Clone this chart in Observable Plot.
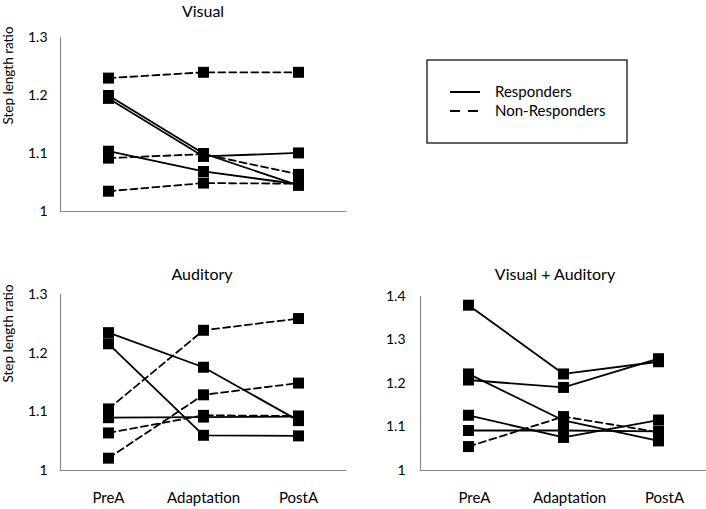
<!DOCTYPE html>
<html>
<head>
<meta charset="utf-8">
<script src="https://cdn.jsdelivr.net/npm/d3@7"></script>
<script src="https://cdn.jsdelivr.net/npm/@observablehq/plot@0.6"></script>
<style>
  html, body { margin: 0; padding: 0; background: #fff; }
  #wrap { position: relative; width: 706px; height: 509px; overflow: hidden; font-family: Lato, "Open Sans", sans-serif; color: #000; }
  .pan { position: absolute; }
  .title { position: absolute; font-size: 16px; transform: translate(-50%, -50%); white-space: nowrap; }
</style>
</head>
<body>
<div id="wrap"></div>
<script>
const phases = ["PreA", "Adaptation", "PostA"];
const groups = ["Responders", "Non-Responders"];
const panelTitles = ["Visual", "Auditory", "Visual + Auditory"];
const yLabel = "Step length ratio";

// Visual
const visualResp = [[1.200, 1.100, 1.045], [1.195, 1.095, 1.101], [1.104, 1.069, 1.047]];
const visualNon  = [[1.230, 1.240, 1.240], [1.092, 1.099, 1.064], [1.035, 1.049, 1.048]];
// Auditory
const audResp = [[1.235, 1.176, 1.085], [1.216, 1.060, 1.059], [1.090, 1.091, 1.092]];
const audNon  = [[1.105, 1.239, 1.259], [1.064, 1.094, 1.093], [1.021, 1.129, 1.149]];
// Visual + Auditory
const vaResp = [[1.380, 1.222, 1.250], [1.222, 1.115, 1.068], [1.208, 1.191, 1.257], [1.127, 1.076, 1.116], [1.092, 1.092, 1.090]];
const vaNon  = [[1.055, 1.124, 1.088]];

const ticksLow = [1, 1.1, 1.2, 1.3];
const ticksHigh = [1, 1.1, 1.2, 1.3, 1.4];

function table(resp, non) {
  const rows = [];
  resp.forEach((s, i) => s.forEach((v, j) => rows.push({group: groups[0], id: "R" + i, phase: phases[j], value: v})));
  non.forEach((s, i) => s.forEach((v, j) => rows.push({group: groups[1], id: "N" + i, phase: phases[j], value: v})));
  return rows;
}

const axisGray = "#8a8a8a";
const fmt = d => (d === 1 ? "1" : d.toFixed(1));

function panel(o) {
  const data = o.data;
  const marks = [
    Plot.frame({anchor: "left", stroke: axisGray, strokeWidth: 1.2}),
    Plot.frame({anchor: "bottom", stroke: axisGray, strokeWidth: 1.2}),
    Plot.axisY({ticks: o.ticks, tickSize: 0, tickPadding: o.tickPad, tickFormat: fmt, label: null, fontSize: 14})
  ];
  if (o.showX) marks.push(Plot.axisX({tickSize: 0, tickPadding: 22, label: null, fontSize: 15, dx: o.xdx || 0}));
  if (o.ylabel) marks.push(Plot.text([o.ylabel], {text: d => d, frameAnchor: "left", rotate: -90, dx: -52, fontSize: 13.5}));
  marks.push(
    Plot.line(data.filter(d => d.group === groups[0]), {x: "phase", y: "value", z: "id", stroke: "#000", strokeWidth: 1.8}),
    Plot.line(data.filter(d => d.group === groups[1]), {x: "phase", y: "value", z: "id", stroke: "#000", strokeWidth: 1.8, strokeDasharray: "7,4"}),
    Plot.dot(data, {x: "phase", y: "value", symbol: "square", r: 6.2, fill: "#000", stroke: "none"})
  );
  const svg = Plot.plot({
    width: o.width, height: o.height,
    marginTop: o.mt, marginBottom: o.mb, marginLeft: o.ml, marginRight: o.mr,
    style: {fontFamily: "Lato, 'Open Sans', sans-serif", color: "#000", background: "transparent", overflow: "visible"},
    x: {type: "point", domain: phases, padding: 0.5, axis: o.showX ? undefined : null, label: null},
    y: {domain: o.domain, label: null},
    marks
  });
  const div = document.createElement("div");
  div.className = "pan";
  div.style.left = o.left + "px";
  div.style.top = o.top + "px";
  div.appendChild(svg);
  document.getElementById("wrap").appendChild(div);
}

panel({data: table(visualResp, visualNon), domain: [1, 1.3], ticks: ticksLow, tickPad: 13,
  left: 0, top: 0, width: 353, height: 230, mt: 37, mb: 19, ml: 60, mr: 8, showX: false, ylabel: yLabel});
panel({data: table(audResp, audNon), domain: [1, 1.3], ticks: ticksLow, tickPad: 13,
  left: 0, top: 230, width: 353, height: 279, mt: 64, mb: 39, ml: 60, mr: 8, showX: true, ylabel: yLabel});
panel({data: table(vaResp, vaNon), domain: [1, 1.4], ticks: ticksHigh, tickPad: 15,
  left: 353, top: 230, width: 353, height: 279, mt: 66, mb: 39, ml: 67, mr: 0, showX: true, xdx: 6});

// titles
const titlePos = [[203, 10], [202, 273], [555, 273]];
panelTitles.forEach((t, i) => {
  const el = document.createElement("div");
  el.className = "title";
  el.textContent = t;
  el.style.left = titlePos[i][0] + "px";
  el.style.top = titlePos[i][1] + "px";
  document.getElementById("wrap").appendChild(el);
});

// legend
const ns = "http://www.w3.org/2000/svg";
const lg = document.createElementNS(ns, "svg");
lg.setAttribute("width", 202);
lg.setAttribute("height", 85);
lg.style.position = "absolute";
lg.style.left = "426px";
lg.style.top = "59px";
const rect = document.createElementNS(ns, "rect");
rect.setAttribute("x", 1); rect.setAttribute("y", 1);
rect.setAttribute("width", 200); rect.setAttribute("height", 83);
rect.setAttribute("fill", "#fff"); rect.setAttribute("stroke", "#222"); rect.setAttribute("stroke-width", 1.4);
lg.appendChild(rect);
groups.forEach((g, i) => {
  const y = 33 + i * 19;
  const ln = document.createElementNS(ns, "line");
  ln.setAttribute("x1", 24); ln.setAttribute("x2", 54);
  ln.setAttribute("y1", y); ln.setAttribute("y2", y);
  ln.setAttribute("stroke", "#000"); ln.setAttribute("stroke-width", 2);
  if (i === 1) ln.setAttribute("stroke-dasharray", "10,8");
  lg.appendChild(ln);
  const tx = document.createElementNS(ns, "text");
  tx.setAttribute("x", 69); tx.setAttribute("y", y);
  tx.setAttribute("dy", "0.35em");
  tx.setAttribute("font-size", 15);
  tx.setAttribute("font-family", "Lato, 'Open Sans', sans-serif");
  tx.textContent = g;
  lg.appendChild(tx);
});
document.getElementById("wrap").appendChild(lg);
</script>
</body>
</html>
